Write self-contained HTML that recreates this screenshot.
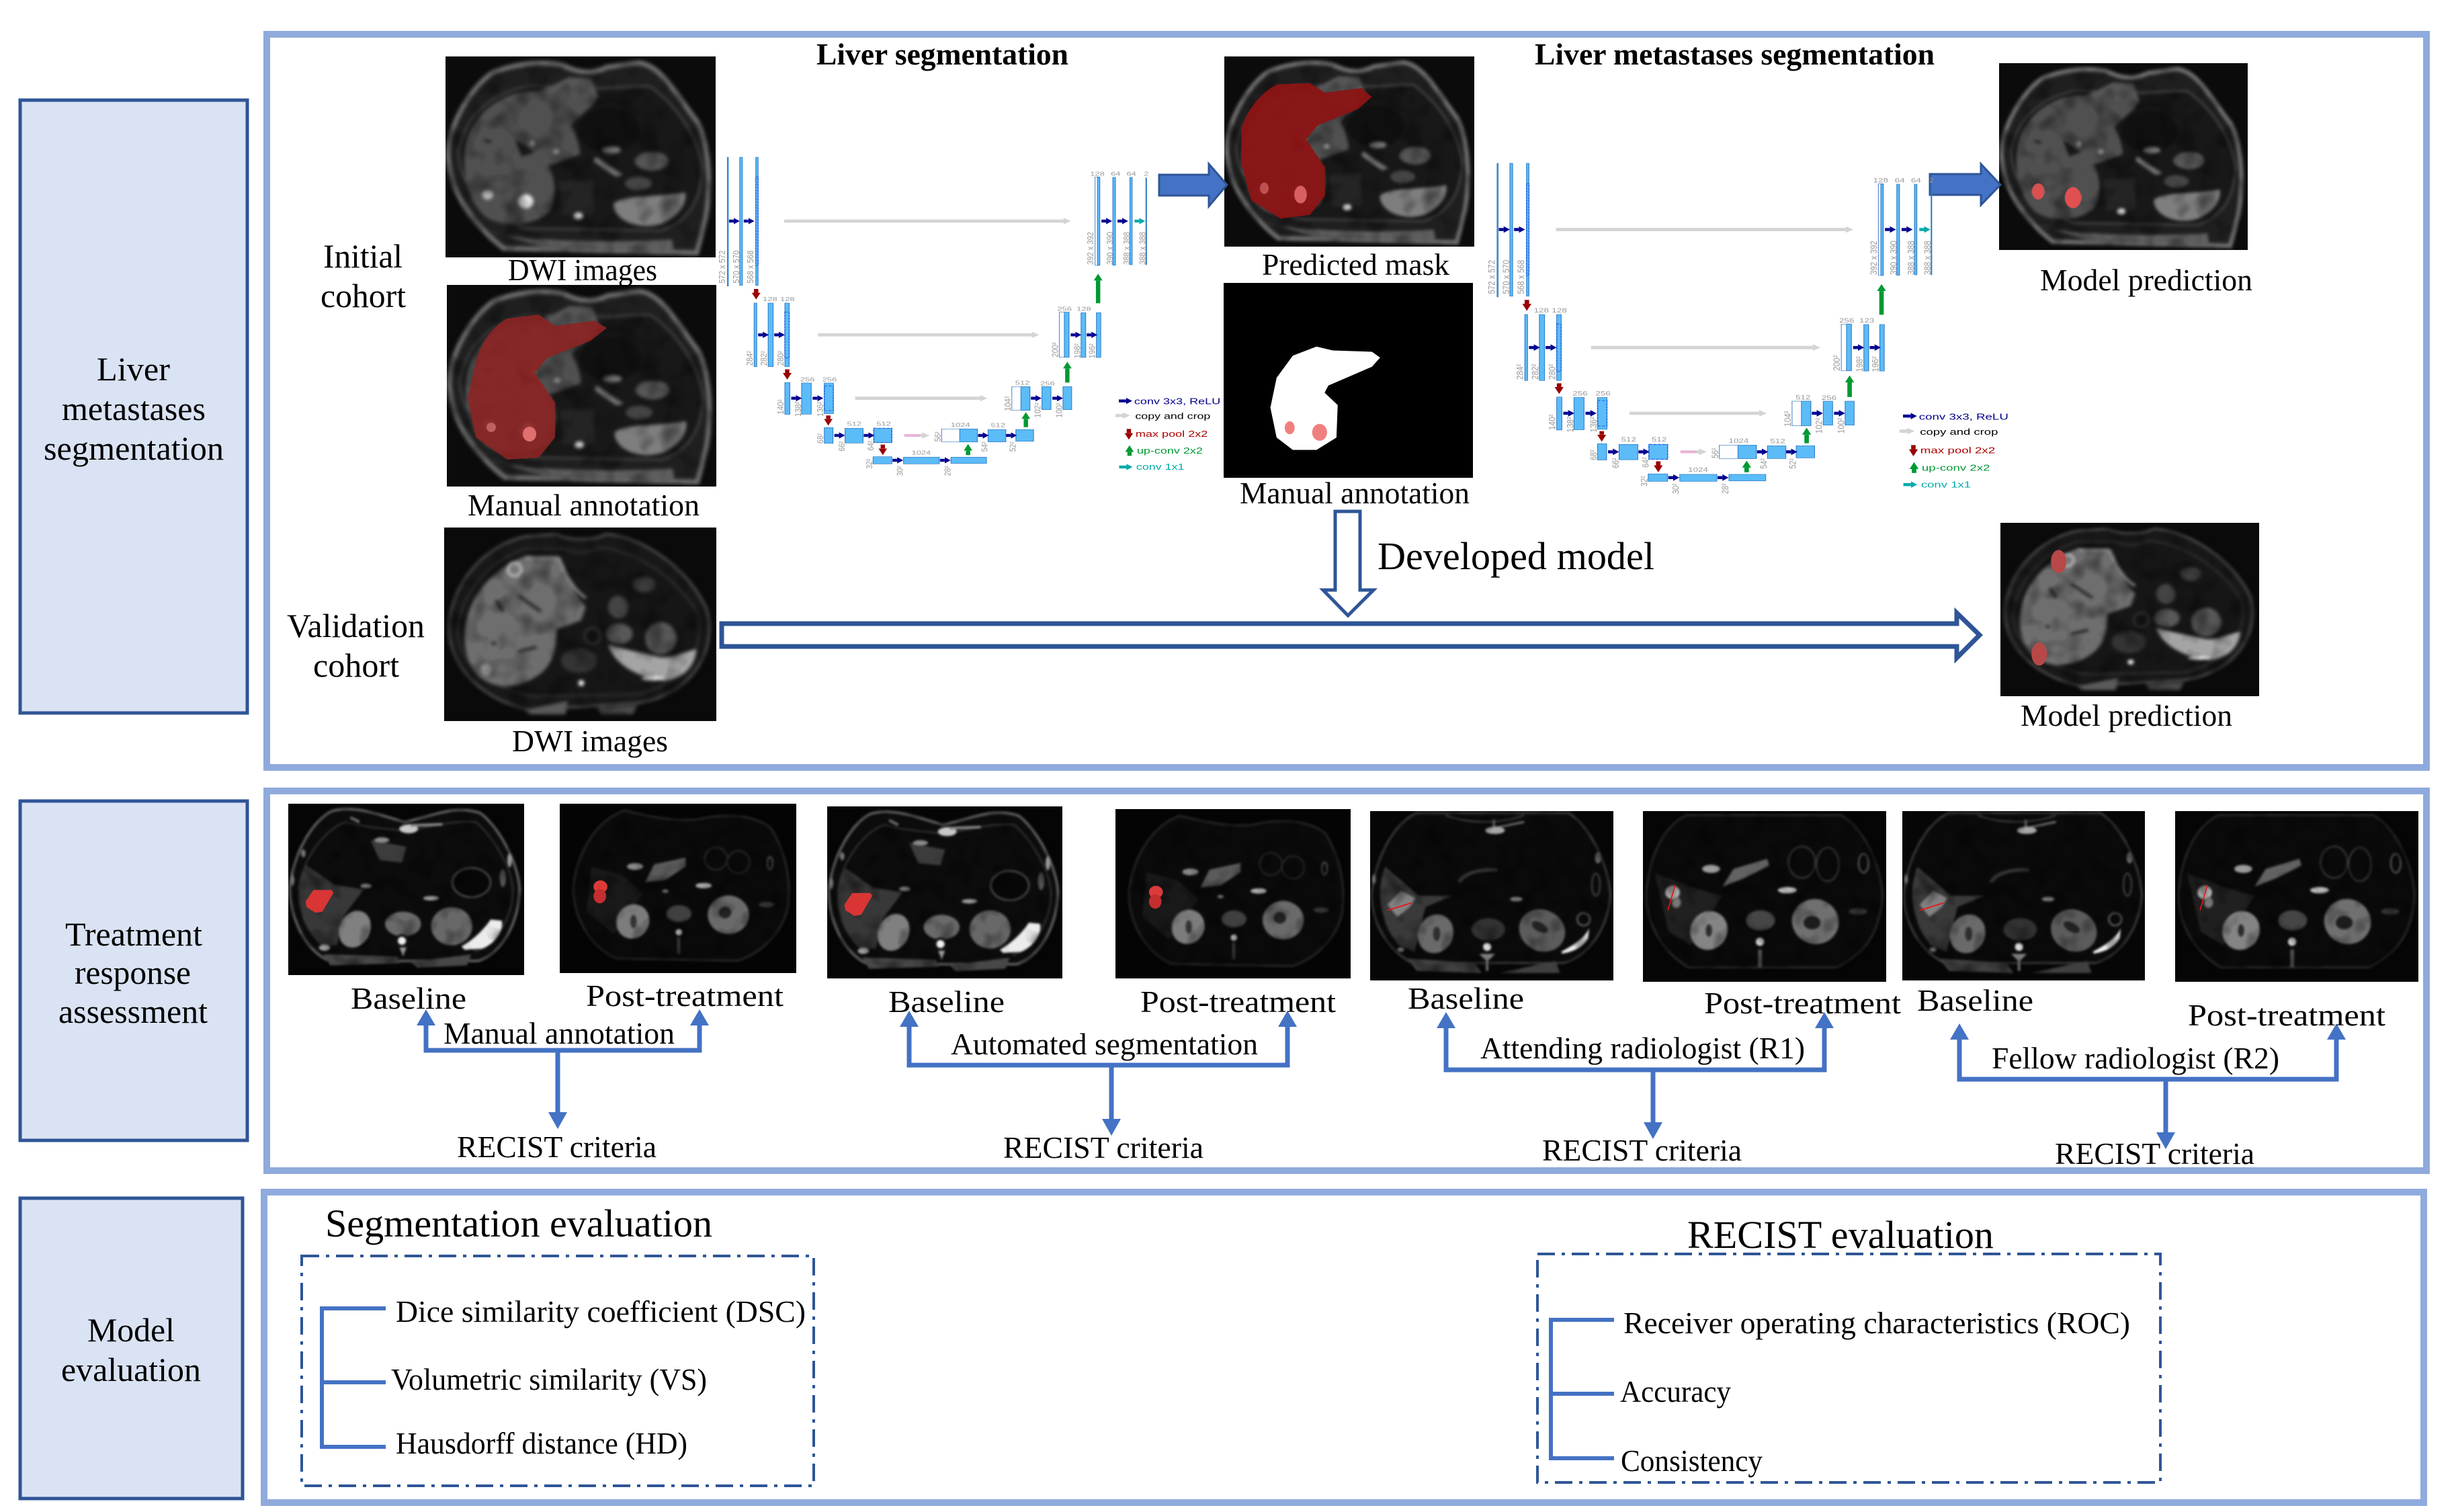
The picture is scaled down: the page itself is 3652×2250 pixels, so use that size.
<!DOCTYPE html>
<html><head><meta charset="utf-8"><title>Liver metastases segmentation workflow</title>
<style>
html,body{margin:0;padding:0;background:#fff}
svg{display:block;font-size:46px}
text{font-family:"Liberation Serif",serif;fill:#000}
.b{font-weight:bold}
.l{font-family:"Liberation Sans",sans-serif;font-size:26px;fill:#999}
.lg{font-family:"Liberation Sans",sans-serif;font-size:38px}
.bar{fill:#5bbcf8;stroke:#2f77c4;stroke-width:2}
.wh{fill:#fff;stroke:#4a80c8;stroke-width:2}
.ds{fill:none;stroke:#1a5fe0;stroke-width:3;stroke-dasharray:8 5}
</style></head><body>
<svg xmlns="http://www.w3.org/2000/svg" width="3652" height="2250" viewBox="0 0 3652 2250">
<defs>
<filter id="b6" x="-5%" y="-5%" width="110%" height="110%" color-interpolation-filters="sRGB">
<feGaussianBlur in="SourceGraphic" stdDeviation="8" result="s"/>
<feTurbulence type="fractalNoise" baseFrequency=".01" numOctaves="2" seed="4" result="n"/>
<feColorMatrix in="n" type="matrix" values="1 0 0 0 .45 1 0 0 0 .45 1 0 0 0 .45 0 0 0 0 1" result="g"/>
<feComposite in="s" in2="g" operator="arithmetic" k1="1" k2="0" k3="0" k4="0"/>
</filter>
<filter id="b3" x="-5%" y="-5%" width="110%" height="110%" color-interpolation-filters="sRGB">
<feGaussianBlur in="SourceGraphic" stdDeviation="5" result="s"/>
<feTurbulence type="fractalNoise" baseFrequency=".012" numOctaves="2" seed="9" result="n"/>
<feColorMatrix in="n" type="matrix" values="1 0 0 0 .45 1 0 0 0 .45 1 0 0 0 .45 0 0 0 0 1" result="g"/>
<feComposite in="s" in2="g" operator="arithmetic" k1="1" k2="0" k3="0" k4="0"/>
</filter>
<marker id="mb" markerUnits="userSpaceOnUse" markerWidth="18" markerHeight="28" refX="0" refY="14" orient="auto"><path d="M0 0L18 14L0 28Z" fill="#000090"/></marker>
<marker id="mt" markerUnits="userSpaceOnUse" markerWidth="18" markerHeight="28" refX="0" refY="14" orient="auto"><path d="M0 0L18 14L0 28Z" fill="#00aaaa"/></marker>
<marker id="my" markerUnits="userSpaceOnUse" markerWidth="22" markerHeight="28" refX="0" refY="14" orient="auto"><path d="M0 0L22 14L0 28Z" fill="#d4d4d4"/></marker>
<marker id="mr" markerUnits="userSpaceOnUse" markerWidth="30" markerHeight="26" refX="0" refY="13" orient="auto"><path d="M0 0L30 13L0 26Z" fill="#990000"/></marker>
<marker id="mg" markerUnits="userSpaceOnUse" markerWidth="30" markerHeight="26" refX="0" refY="13" orient="auto"><path d="M0 0L30 13L0 26Z" fill="#009933"/></marker>

<symbol id="mri1" viewBox="40 72 1205 898" preserveAspectRatio="none">
<rect x="40" y="72" width="1205" height="898" fill="#0b0b0b"/>
<g filter="url(#b6)">
<path d="M50 500C60 350 180 180 260 140C340 110 450 90 560 110C640 150 700 150 760 120L900 100C1000 110 1060 230 1160 360C1210 450 1230 620 1200 800L1160 950L300 930C170 830 55 680 50 500Z" fill="#1f1f1f" stroke="#6c6c6c" stroke-width="22"/>
<path d="M100 500C120 350 240 230 420 205L720 215L950 205C1030 260 1150 380 1185 560C1185 720 1120 810 1000 850L400 840C230 780 100 660 100 500Z" fill="#181818" stroke="#4a4a4a" stroke-width="8"/>
<path d="M125 500C140 350 270 230 440 225L720 250C700 300 640 330 600 380C620 420 640 470 640 510L500 560C540 640 530 720 500 770C430 830 300 840 220 790C150 730 115 620 125 500Z" fill="#505050"/>
<path d="M440 230C520 250 640 250 720 250L690 170L590 165L520 200Z" fill="#555"/>
<path d="M350 440L440 500L380 520ZM200 440L250 450L230 460Z" fill="#1a1a1a"/>
<ellipse cx="770" cy="400" rx="140" ry="100" fill="#101010"/>
<path d="M710 520L830 600L800 610L700 540Z" fill="#757575"/>
<ellipse cx="960" cy="540" rx="75" ry="42" fill="#5a5a5a"/>
<ellipse cx="780" cy="490" rx="42" ry="16" fill="#777"/>
<ellipse cx="900" cy="640" rx="60" ry="30" fill="#444"/>
<path d="M790 730C830 690 1000 700 1110 680C1120 750 1040 830 940 830C860 830 790 790 790 730Z" fill="#7e7e7e"/>
<path d="M230 850C300 890 700 910 1050 890L1060 950L500 930Z" fill="#5e5e5e"/>
<path d="M545 630L700 620L700 780L560 780Z" fill="#242424"/>
<ellipse cx="228" cy="690" rx="24" ry="22" fill="#b8b8b8"/>
<ellipse cx="398" cy="720" rx="34" ry="32" fill="#e6e6e6"/>
<ellipse cx="632" cy="785" rx="20" ry="15" fill="#eee"/>
<ellipse cx="428" cy="460" rx="12" ry="12" fill="#aaa"/>
<ellipse cx="533" cy="497" rx="14" ry="12" fill="#aaa"/>
</g>
</symbol>

<symbol id="mri2" viewBox="18 15 1215 865" preserveAspectRatio="none">
<rect x="18" y="15" width="1215" height="865" fill="#0a0a0a"/>
<g filter="url(#b6)">
<path d="M40 450C50 280 180 100 380 55L520 45C580 75 680 75 740 45C880 50 1100 180 1190 380C1240 560 1130 760 880 800L400 830C200 790 30 640 40 450Z" fill="#181818" stroke="#555" stroke-width="10"/>
<path d="M80 470C90 330 200 170 380 110L560 110C600 135 650 130 720 105C870 120 1050 230 1150 400C1180 560 1100 710 880 760L420 770C240 740 70 620 80 470Z" fill="#161616" stroke="#333" stroke-width="8"/>
<path d="M110 500C110 350 220 200 380 145L530 145C560 220 590 300 650 370L630 430L520 470C520 560 500 640 430 680C340 740 250 740 170 680C120 620 108 560 110 500Z" fill="#6e6e6e"/>
<path d="M380 148L530 150C560 220 590 290 650 330" fill="none" stroke="#a0a0a0" stroke-width="10"/>
<path d="M350 320L450 390M250 340L280 390M230 530L250 535M350 570L430 550" stroke="#262626" stroke-width="14" fill="none"/>
<path d="M750 540C780 620 860 680 1000 700C1100 690 1140 620 1145 560C1100 560 1040 610 960 590C870 570 790 550 750 540Z" fill="#a4a4a4"/>
<ellipse cx="950" cy="690" rx="50" ry="8" fill="#eee"/>
<ellipse cx="620" cy="610" rx="80" ry="55" fill="#343434"/>
<ellipse cx="800" cy="490" rx="60" ry="45" fill="#585858"/>
<ellipse cx="985" cy="510" rx="70" ry="72" fill="#585858"/>
<ellipse cx="795" cy="370" rx="45" ry="50" fill="#444"/>
<ellipse cx="910" cy="270" rx="50" ry="35" fill="#3c3c3c"/>
<circle cx="680" cy="500" r="35" fill="#111" stroke="#3a3a3a" stroke-width="8"/>
<path d="M380 830L570 790L560 850L400 850Z" fill="#5a5a5a"/>
<path d="M700 820L880 810L860 850L720 850Z" fill="#4a4a4a"/>
<circle cx="332" cy="202" r="30" fill="#777" stroke="#cfcfcf" stroke-width="9"/>
<circle cx="205" cy="650" r="25" fill="#c0c0c0"/>
<circle cx="630" cy="710" r="13" fill="#fff"/>
</g>
</symbol>

<symbol id="bas" viewBox="13 18 1052 765" preserveAspectRatio="none">
<rect x="13" y="18" width="1052" height="765" fill="#050505"/>
<g filter="url(#b3)">
<path d="M20 400C30 250 120 90 210 50C300 25 400 60 530 100C650 75 760 20 870 60C950 120 1040 280 1045 400C1040 560 960 690 860 720L200 720C110 690 25 560 20 400Z" fill="#0c0c0c" stroke="#5a5a5a" stroke-width="12"/>
<path d="M60 400C70 280 170 130 270 100C380 130 470 130 540 140C650 120 760 90 850 100C930 170 1010 300 1015 410C1010 540 930 650 840 680" fill="none" stroke="#2e2e2e" stroke-width="8"/>
<path d="M90 290L220 380L350 400L260 520L230 650L160 650C100 600 50 500 60 400Z" fill="#383838"/>
<path d="M380 180L540 210L520 280L420 270Z" fill="#3c3c3c"/>
<ellipse cx="430" cy="180" rx="34" ry="12" fill="#8a8a8a"/>
<ellipse cx="550" cy="130" rx="42" ry="20" fill="#c8c8c8"/>
<path d="M290 80L330 100M560 115L700 110" stroke="#888" stroke-width="12"/>
<ellipse cx="1000" cy="270" rx="10" ry="32" fill="#999"/>
<ellipse cx="80" cy="240" rx="10" ry="18" fill="#777"/>
<ellipse cx="32" cy="360" rx="8" ry="25" fill="#777"/>
<ellipse cx="970" cy="350" rx="14" ry="40" fill="#555"/>
<ellipse cx="830" cy="370" rx="85" ry="65" fill="#070707" stroke="#4a4a4a" stroke-width="8"/>
<ellipse cx="650" cy="440" rx="35" ry="10" fill="#999"/>
<ellipse cx="360" cy="385" rx="25" ry="10" fill="#888"/>
<ellipse cx="310" cy="578" rx="68" ry="85" transform="rotate(25 310 578)" fill="#808080"/>
<ellipse cx="525" cy="555" rx="80" ry="55" fill="#6a6a6a"/>
<ellipse cx="742" cy="565" rx="92" ry="85" fill="#686868"/>
<path d="M170 690L500 700L510 730L200 740Z" fill="#484848"/>
<path d="M560 725L830 690L810 740L590 750Z" fill="#484848"/>
<ellipse cx="175" cy="660" rx="25" ry="14" fill="#aaa"/>
<path d="M785 655C850 620 900 560 915 535L965 540C975 580 940 640 880 665L800 670Z" fill="#ececec"/>
<circle cx="520" cy="630" r="30" fill="#111"/>
<circle cx="520" cy="630" r="18" fill="#f0f0f0"/>
<path d="M510 660L540 660L525 700Z" fill="#aaa"/>
</g>
<path d="M125 403L205 403L215 415L165 500L135 505L95 480L90 455Z" fill="#d93535"/>
</symbol>

<symbol id="pos" viewBox="10 20 1052 755" preserveAspectRatio="none">
<rect x="10" y="20" width="1052" height="755" fill="#040404"/>
<g filter="url(#b3)">
<path d="M70 400C80 250 170 90 300 50C420 80 520 100 620 90C750 60 880 70 950 130C1010 230 1040 340 1025 480C1000 600 900 690 800 720L260 710C150 660 70 530 70 400Z" fill="#0a0a0a" stroke="#232323" stroke-width="10"/>
<path d="M150 300L290 340L380 420L250 600L130 500Z" fill="#191919"/>
<path d="M390 370L430 290L570 260L570 300L480 360Z" fill="#5a5a5a"/>
<ellipse cx="345" cy="300" rx="36" ry="15" fill="#888"/>
<ellipse cx="650" cy="385" rx="36" ry="12" fill="#aaa"/>
<ellipse cx="480" cy="410" rx="14" ry="8" fill="#666"/>
<circle cx="705" cy="265" r="50" fill="none" stroke="#2c2c2c" stroke-width="6"/>
<circle cx="805" cy="280" r="50" fill="none" stroke="#2c2c2c" stroke-width="6"/>
<ellipse cx="945" cy="285" rx="12" ry="28" fill="none" stroke="#555" stroke-width="6"/>
<ellipse cx="335" cy="545" rx="72" ry="78" transform="rotate(30 335 545)" fill="#7c7c7c"/>
<ellipse cx="760" cy="515" rx="92" ry="86" fill="#6a6a6a"/>
<ellipse cx="338" cy="545" rx="14" ry="30" fill="#333"/>
<ellipse cx="745" cy="505" rx="28" ry="26" fill="#222"/>
<ellipse cx="540" cy="510" rx="56" ry="38" fill="#404040"/>
<circle cx="540" cy="593" r="14" fill="#ececec"/>
<rect x="533" y="615" width="12" height="75" fill="#3a3a3a"/>
<ellipse cx="930" cy="470" rx="35" ry="12" fill="#333"/>
</g>
<ellipse cx="191" cy="390" rx="31" ry="28" fill="#dc3a3a"/>
<ellipse cx="188" cy="432" rx="28" ry="32" fill="#c42e2e"/>
</symbol>

<symbol id="bae" viewBox="13 22 1085 756" preserveAspectRatio="none">
<rect x="13" y="22" width="1085" height="756" fill="#060606"/>
<g filter="url(#b3)">
<path d="M20 400C30 260 100 90 220 30L900 30C1000 100 1075 260 1085 400C1070 560 980 670 880 700L200 700C90 640 25 530 20 400Z" fill="#0a0a0a" stroke="#383838" stroke-width="10"/>
<path d="M350 40C450 80 600 80 700 40" fill="none" stroke="#3a3a3a" stroke-width="8"/>
<path d="M530 105L700 70M565 105L565 60" stroke="#6a6a6a" stroke-width="10"/>
<ellipse cx="570" cy="108" rx="44" ry="16" fill="#a8a8a8"/>
<path d="M80 270L230 400L380 400L260 450L210 650L140 620C70 540 30 400 80 270Z" fill="#3a3a3a"/>
<path d="M410 340C430 300 500 280 580 285" fill="none" stroke="#333" stroke-width="16"/>
<path d="M150 378L215 410L190 450L135 495L90 440Z" fill="#828282"/>
<ellipse cx="305" cy="570" rx="78" ry="88" transform="rotate(25 305 570)" fill="#6a6a6a"/>
<ellipse cx="310" cy="570" rx="16" ry="32" fill="#2e2e2e"/>
<ellipse cx="780" cy="555" rx="105" ry="92" transform="rotate(25 780 555)" fill="#5c5c5c"/>
<ellipse cx="770" cy="540" rx="40" ry="20" transform="rotate(30 770 540)" fill="#222"/>
<ellipse cx="540" cy="550" rx="75" ry="50" fill="#323232"/>
<circle cx="535" cy="628" r="18" fill="#dcdcdc"/>
<path d="M500 660L570 660L540 690L540 735L530 735L530 690Z" fill="#888"/>
<path d="M865 650C920 620 970 590 990 545L985 590C960 630 920 650 870 658Z" fill="#f0f0f0"/>
<circle cx="965" cy="505" r="28" fill="#0a0a0a" stroke="#5a5a5a" stroke-width="8"/>
<path d="M180 680L480 700L510 745L220 735Z" fill="#404040"/>
<path d="M590 745L840 690L860 745Z" fill="#404040"/>
<ellipse cx="1030" cy="230" rx="14" ry="25" fill="#777"/>
<ellipse cx="1020" cy="350" rx="18" ry="50" fill="none" stroke="#4a4a4a" stroke-width="6"/>
<ellipse cx="30" cy="325" rx="8" ry="22" fill="#777"/>
<ellipse cx="665" cy="415" rx="28" ry="10" fill="#777"/>
<ellipse cx="150" cy="640" rx="15" ry="10" fill="#888"/>
</g>
<line x1="90" y1="465" x2="197" y2="432" stroke="#ee1111" stroke-width="5"/>
</symbol>

<symbol id="pof" viewBox="16 22 1085 762" preserveAspectRatio="none">
<rect x="16" y="22" width="1085" height="762" fill="#050505"/>
<g filter="url(#b3)">
<path d="M30 400C40 250 90 100 210 40L900 40C1000 100 1075 250 1085 400C1070 560 1020 650 880 720L220 720C100 650 35 530 30 400Z" fill="#0a0a0a" stroke="#282828" stroke-width="9"/>
<path d="M70 300L230 360L370 400L230 620L130 560Z" fill="#202020"/>
<path d="M370 360L420 280L570 235L580 265L470 320Z" fill="#626262"/>
<ellipse cx="320" cy="280" rx="40" ry="18" fill="#9c9c9c"/>
<ellipse cx="660" cy="375" rx="42" ry="14" fill="#bcbcbc"/>
<ellipse cx="725" cy="250" rx="60" ry="70" fill="none" stroke="#3e3e3e" stroke-width="6"/>
<ellipse cx="840" cy="260" rx="50" ry="75" fill="none" stroke="#3e3e3e" stroke-width="6"/>
<ellipse cx="1000" cy="255" rx="22" ry="42" fill="none" stroke="#666" stroke-width="6"/>
<ellipse cx="975" cy="470" rx="40" ry="14" fill="#3c3c3c"/>
<ellipse cx="148" cy="385" rx="32" ry="30" fill="#d0d0d0"/>
<ellipse cx="165" cy="430" rx="20" ry="24" fill="#777"/>
<ellipse cx="310" cy="555" rx="82" ry="88" transform="rotate(30 310 555)" fill="#848484"/>
<ellipse cx="310" cy="555" rx="14" ry="28" fill="#2c2c2c"/>
<ellipse cx="785" cy="515" rx="105" ry="100" transform="rotate(20 785 515)" fill="#707070"/>
<ellipse cx="770" cy="520" rx="38" ry="30" fill="#1c1c1c"/>
<ellipse cx="540" cy="510" rx="65" ry="45" fill="#464646"/>
<circle cx="538" cy="605" r="18" fill="#f0f0f0"/>
<rect x="530" y="640" width="16" height="80" fill="#555"/>
</g>
<line x1="160" y1="352" x2="127" y2="465" stroke="#ee1111" stroke-width="5"/>
</symbol>

<g id="unet">
<rect class="bar" x="25" y="42" width="3" height="575"/><rect class="bar" x="62" y="42" width="8" height="572"/><rect class="bar" x="110" y="42" width="7" height="572"/><rect class="ds" x="110" y="130" width="7" height="395"/>
<rect class="wh" x="1125" y="130" width="14" height="395"/><rect class="bar" x="1132" y="132" width="7" height="392"/><rect class="bar" x="1178" y="132" width="8" height="392"/><rect class="bar" x="1229" y="132" width="7" height="390"/><rect class="bar" x="1277" y="134" width="2" height="388"/>
<rect class="bar" x="105" y="693" width="8" height="284"/><rect class="bar" x="147" y="693" width="15" height="284"/><rect class="bar" x="197" y="693" width="13" height="284"/><rect class="ds" x="197" y="733" width="13" height="205"/>
<rect class="wh" x="1018" y="734" width="29" height="201"/><rect class="bar" x="1033" y="734" width="14" height="201"/><rect class="bar" x="1083" y="736" width="14" height="200"/><rect class="bar" x="1129" y="736" width="13" height="200"/>
<rect class="bar" x="197" y="1048" width="15" height="142"/><rect class="bar" x="247" y="1050" width="29" height="139"/><rect class="bar" x="315" y="1050" width="27" height="137"/><rect class="ds" x="315" y="1063" width="27" height="110"/>
<rect class="wh" x="876" y="1066" width="54" height="106"/><rect class="bar" x="903" y="1066" width="27" height="106"/><rect class="bar" x="966" y="1066" width="27" height="103"/><rect class="bar" x="1029" y="1066" width="26" height="103"/>
<rect class="bar" x="315" y="1249" width="26" height="70"/><rect class="bar" x="377" y="1252" width="54" height="66"/><rect class="bar" x="463" y="1252" width="54" height="64"/><rect class="ds" x="463" y="1252" width="54" height="64"/>
<rect class="wh" x="666" y="1255" width="107" height="58"/><rect class="bar" x="720" y="1255" width="53" height="58"/><rect class="bar" x="805" y="1258" width="53" height="55"/><rect class="bar" x="888" y="1258" width="53" height="52"/>
<rect class="bar" x="461" y="1379" width="56" height="32"/><rect class="bar" x="552" y="1381" width="107" height="30"/><rect class="bar" x="694" y="1381" width="106" height="28"/>
<g stroke="#000090" stroke-width="13" fill="none">
<path d="M30 327H44" marker-end="url(#mb)"/><path d="M74 327H88" marker-end="url(#mb)"/><path d="M1144 327H1158" marker-end="url(#mb)"/><path d="M1192 327H1206" marker-end="url(#mb)"/>
<path d="M117 835H131" marker-end="url(#mb)"/><path d="M165 835H179" marker-end="url(#mb)"/><path d="M1052 835H1066" marker-end="url(#mb)"/><path d="M1100 835H1114" marker-end="url(#mb)"/>
<path d="M216 1118H230" marker-end="url(#mb)"/><path d="M280 1118H294" marker-end="url(#mb)"/><path d="M933 1118H947" marker-end="url(#mb)"/><path d="M997 1118H1011" marker-end="url(#mb)"/>
<path d="M345 1284H359" marker-end="url(#mb)"/><path d="M433 1284H447" marker-end="url(#mb)"/><path d="M775 1284H789" marker-end="url(#mb)"/><path d="M859 1284H873" marker-end="url(#mb)"/>
<path d="M519 1395H533" marker-end="url(#mb)"/><path d="M661 1395H675" marker-end="url(#mb)"/>
<path d="M1196 1130H1218" marker-end="url(#mb)"/>
</g>
<path d="M1243 327H1257" stroke="#00aaaa" stroke-width="13" marker-end="url(#mt)"/><path d="M1197 1425H1219" stroke="#00aaaa" stroke-width="13" marker-end="url(#mt)"/>
<path d="M195 327H1031" stroke="#d4d4d4" stroke-width="14" marker-end="url(#my)"/><path d="M296 835H936" stroke="#d4d4d4" stroke-width="14" marker-end="url(#my)"/><path d="M407 1118H781" stroke="#d4d4d4" stroke-width="14" marker-end="url(#my)"/>
<path d="M600 1284H608" stroke="#d4d4d4" stroke-width="14" marker-end="url(#my)"/><path d="M554 1284H600" stroke="#e8b4d4" stroke-width="12"/>
<path d="M1186 1195H1208" stroke="#d4d4d4" stroke-width="14" marker-end="url(#my)"/>
<g stroke="#990000" stroke-width="13" fill="none">
<path d="M111 630V647" marker-end="url(#mr)"/><path d="M204 989V1005" marker-end="url(#mr)"/><path d="M327 1195V1210" marker-end="url(#mr)"/><path d="M490 1325V1342" marker-end="url(#mr)"/><path d="M1226 1255V1273" marker-end="url(#mr)"/>
</g>
<g stroke="#009933" stroke-width="13" fill="none">
<path d="M1134 694V592" marker-end="url(#mg)"/><path d="M1042 1048V985" marker-end="url(#mg)"/><path d="M918 1247V1210" marker-end="url(#mg)"/><path d="M745 1372V1352" marker-end="url(#mg)"/><path d="M1228 1375V1358" marker-end="url(#mg)"/>
</g>
</g>
</defs>

<rect width="3652" height="2250" fill="#fff"/>

<!-- left labels -->
<g fill="#dae3f3" stroke="#2f5597" stroke-width="5">
<rect x="30" y="149" width="338" height="912"/>
<rect x="30" y="1192" width="338" height="505"/>
<rect x="30" y="1783" width="331" height="447"/>
</g>

<!-- panels -->
<g fill="none" stroke="#8faadc" stroke-width="10">
<rect x="397" y="51" width="3214" height="1091"/>
<rect x="397" y="1177" width="3214" height="565"/>
<rect x="393" y="1774" width="3214" height="462"/>
</g>

<text x="144" y="566" font-size="50" textLength="109" lengthAdjust="spacingAndGlyphs">Liver</text>
<text x="92" y="625" font-size="50" textLength="214" lengthAdjust="spacingAndGlyphs">metastases</text>
<text x="65" y="684" font-size="50" textLength="268" lengthAdjust="spacingAndGlyphs">segmentation</text>
<text x="97" y="1407" font-size="50" textLength="204" lengthAdjust="spacingAndGlyphs">Treatment</text>
<text x="111" y="1464" font-size="50" textLength="173" lengthAdjust="spacingAndGlyphs">response</text>
<text x="87" y="1522" font-size="50" textLength="222" lengthAdjust="spacingAndGlyphs">assessment</text>
<text x="130" y="1996" font-size="50" textLength="130" lengthAdjust="spacingAndGlyphs">Model</text>
<text x="91" y="2055" font-size="50" textLength="208" lengthAdjust="spacingAndGlyphs">evaluation</text>

<!-- images panel 1 -->
<use href="#mri1" x="663" y="84" width="402" height="299"/>
<use href="#mri1" x="665" y="424" width="401" height="300"/>
<path transform="translate(665 424)" d="M43 116C50 85 70 60 90 50L137 44L161 61L220 53L238 64L214 83L149 109L131 131L161 175L161 227L137 257L90 260L43 227L31 168Z" fill="#8c2424" fill-opacity=".9"/>
<g transform="translate(665 424)"><ellipse cx="66" cy="212" rx="7" ry="7" fill="#c06060"/><ellipse cx="123" cy="222" rx="10" ry="11" fill="#e07070"/></g>
<use href="#mri2" x="661" y="785" width="405" height="288"/>
<use href="#mri1" x="1822" y="84" width="372" height="283"/>
<path transform="translate(1822 84) scale(.93 .943)" d="M27 116C35 85 60 55 85 44L137 42L161 57L220 50L236 64L214 83L149 109L131 131L161 175L161 220L137 250L90 256L43 227L27 168Z" fill="#8c1414" fill-opacity=".95"/>
<g transform="translate(1822 84) scale(.93 .943)"><ellipse cx="64" cy="208" rx="7" ry="9" fill="#c05050"/><ellipse cx="122" cy="218" rx="10" ry="14" fill="#d86060"/></g>
<g transform="translate(1821 421) scale(.9275 .9667)">
<rect width="400" height="300" fill="#000"/>
<path d="M149 98L175 104L238 106L251 115L238 129L168 158L162 169L183 188L181 238L149 257L111 257L85 238L75 192L85 146L111 112Z" fill="#fff"/>
<ellipse cx="106" cy="223" rx="8" ry="10" fill="#f08080"/><ellipse cx="154" cy="230" rx="12" ry="13" fill="#f08080"/>
</g>
<use href="#mri1" x="2975" y="94" width="370" height="278"/>
<g transform="translate(2975 94) scale(.925 .9267)"><ellipse cx="63" cy="206" rx="10" ry="13" fill="#d85050"/><ellipse cx="119" cy="216" rx="13" ry="17" fill="#e05050"/></g>
<use href="#mri2" x="2977" y="778" width="385" height="258"/>
<g transform="translate(2977 778) scale(.9625 .86)"><ellipse cx="90" cy="67" rx="12" ry="20" fill="#b84848"/><ellipse cx="60" cy="227" rx="12" ry="20" fill="#b84848"/></g>

<!-- panel 1 arrows -->
<path d="M1725 260H1799V244L1826 275L1799 307V291H1725Z" fill="#4472c4" stroke="#2f5597" stroke-width="3"/>
<path d="M2872 259H2948V244L2977 275L2948 305V290H2872Z" fill="#4472c4" stroke="#2f5597" stroke-width="3"/>
<path d="M1987 761H2024V878H2044L2006 916L1969 878H1987Z" fill="#fff" stroke="#2f5597" stroke-width="5"/>
<path d="M1074 928H2912V912L2946 945L2912 979V962H1074Z" fill="#fff" stroke="#2f5597" stroke-width="7"/>

<!-- U-nets -->
<g transform="translate(1070 220) scale(.4975 .3333)">
<use href="#unet"/>
<text class="l" transform="translate(18 605) rotate(-90)" textLength="147" lengthAdjust="spacingAndGlyphs">572 x 572</text>
<text class="l" transform="translate(60 605) rotate(-90)" textLength="147" lengthAdjust="spacingAndGlyphs">570 x 570</text>
<text class="l" transform="translate(103 605) rotate(-90)" textLength="147" lengthAdjust="spacingAndGlyphs">568 x 568</text>
<text class="l" transform="translate(1120 522) rotate(-90)" textLength="147" lengthAdjust="spacingAndGlyphs">392 x 392</text>
<text class="l" transform="translate(1178 522) rotate(-90)" textLength="147" lengthAdjust="spacingAndGlyphs">390 x 390</text>
<text class="l" transform="translate(1228 522) rotate(-90)" textLength="147" lengthAdjust="spacingAndGlyphs">388 x 388</text>
<text class="l" transform="translate(1275 522) rotate(-90)" textLength="147" lengthAdjust="spacingAndGlyphs">388 x 388</text>
<text class="l" transform="translate(100 973) rotate(-90)" textLength="67" lengthAdjust="spacingAndGlyphs">284²</text>
<text class="l" transform="translate(143 973) rotate(-90)" textLength="67" lengthAdjust="spacingAndGlyphs">282²</text>
<text class="l" transform="translate(193 973) rotate(-90)" textLength="67" lengthAdjust="spacingAndGlyphs">280²</text>
<text class="l" transform="translate(1014 935) rotate(-90)" textLength="67" lengthAdjust="spacingAndGlyphs">200²</text>
<text class="l" transform="translate(1080 940) rotate(-90)" textLength="67" lengthAdjust="spacingAndGlyphs">198²</text>
<text class="l" transform="translate(1125 940) rotate(-90)" textLength="67" lengthAdjust="spacingAndGlyphs">196²</text>
<text class="l" transform="translate(193 1190) rotate(-90)" textLength="67" lengthAdjust="spacingAndGlyphs">140²</text>
<text class="l" transform="translate(245 1200) rotate(-90)" textLength="67" lengthAdjust="spacingAndGlyphs">138²</text>
<text class="l" transform="translate(312 1200) rotate(-90)" textLength="67" lengthAdjust="spacingAndGlyphs">136²</text>
<text class="l" transform="translate(872 1175) rotate(-90)" textLength="67" lengthAdjust="spacingAndGlyphs">104²</text>
<text class="l" transform="translate(962 1205) rotate(-90)" textLength="67" lengthAdjust="spacingAndGlyphs">102²</text>
<text class="l" transform="translate(1026 1205) rotate(-90)" textLength="67" lengthAdjust="spacingAndGlyphs">100²</text>
<text class="l" transform="translate(312 1320) rotate(-90)" textLength="45" lengthAdjust="spacingAndGlyphs">68²</text>
<text class="l" transform="translate(376 1355) rotate(-90)" textLength="45" lengthAdjust="spacingAndGlyphs">66²</text>
<text class="l" transform="translate(462 1352) rotate(-90)" textLength="45" lengthAdjust="spacingAndGlyphs">64²</text>
<text class="l" transform="translate(663 1312) rotate(-90)" textLength="45" lengthAdjust="spacingAndGlyphs">56²</text>
<text class="l" transform="translate(803 1357) rotate(-90)" textLength="45" lengthAdjust="spacingAndGlyphs">54²</text>
<text class="l" transform="translate(887 1357) rotate(-90)" textLength="45" lengthAdjust="spacingAndGlyphs">52²</text>
<text class="l" transform="translate(458 1433) rotate(-90)" textLength="45" lengthAdjust="spacingAndGlyphs">32²</text>
<text class="l" transform="translate(550 1465) rotate(-90)" textLength="45" lengthAdjust="spacingAndGlyphs">30²</text>
<text class="l" transform="translate(692 1465) rotate(-90)" textLength="45" lengthAdjust="spacingAndGlyphs">28²</text>
<text class="l" x="131" y="684">128</text><text class="l" x="183" y="684">128</text><text class="l" x="243" y="1042">256</text><text class="l" x="309" y="1042">256</text><text class="l" x="383" y="1240">512</text><text class="l" x="471" y="1240">512</text><text class="l" x="576" y="1370">1024</text>
<text class="l" x="1110" y="124">128</text><text class="l" x="1172" y="124">64</text><text class="l" x="1219" y="124">64</text><text class="l" x="1271" y="124">2</text><text class="l" x="1012" y="728">256</text><text class="l" x="1070" y="728">128</text><text class="l" x="886" y="1058">512</text><text class="l" x="961" y="1060">256</text><text class="l" x="693" y="1245">1024</text><text class="l" x="813" y="1247">512</text>
<text class="lg" x="1242" y="1145" style="fill:#00008b" textLength="258" lengthAdjust="spacingAndGlyphs">conv 3x3, ReLU</text>
<text class="lg" x="1245" y="1210" textLength="225" lengthAdjust="spacingAndGlyphs">copy and crop</text>
<text class="lg" x="1246" y="1290" style="fill:#aa0000" textLength="216" lengthAdjust="spacingAndGlyphs">max pool 2x2</text>
<text class="lg" x="1250" y="1365" style="fill:#009933" textLength="197" lengthAdjust="spacingAndGlyphs">up-conv 2x2</text>
<text class="lg" x="1248" y="1437" style="fill:#00aaaa" textLength="144" lengthAdjust="spacingAndGlyphs">conv 1x1</text>
</g>

<g transform="translate(2215 228.500) scale(.5159 .3457)">
<use href="#unet"/>
<text class="l" transform="translate(18 605) rotate(-90)" textLength="147" lengthAdjust="spacingAndGlyphs">572 x 572</text>
<text class="l" transform="translate(60 605) rotate(-90)" textLength="147" lengthAdjust="spacingAndGlyphs">570 x 570</text>
<text class="l" transform="translate(103 605) rotate(-90)" textLength="147" lengthAdjust="spacingAndGlyphs">568 x 568</text>
<text class="l" transform="translate(1120 522) rotate(-90)" textLength="147" lengthAdjust="spacingAndGlyphs">392 x 392</text>
<text class="l" transform="translate(1178 522) rotate(-90)" textLength="147" lengthAdjust="spacingAndGlyphs">390 x 390</text>
<text class="l" transform="translate(1228 522) rotate(-90)" textLength="147" lengthAdjust="spacingAndGlyphs">388 x 388</text>
<text class="l" transform="translate(1275 522) rotate(-90)" textLength="147" lengthAdjust="spacingAndGlyphs">388 x 388</text>
<text class="l" transform="translate(100 973) rotate(-90)" textLength="67" lengthAdjust="spacingAndGlyphs">284²</text>
<text class="l" transform="translate(143 973) rotate(-90)" textLength="67" lengthAdjust="spacingAndGlyphs">282²</text>
<text class="l" transform="translate(193 973) rotate(-90)" textLength="67" lengthAdjust="spacingAndGlyphs">280²</text>
<text class="l" transform="translate(1014 935) rotate(-90)" textLength="67" lengthAdjust="spacingAndGlyphs">200²</text>
<text class="l" transform="translate(1080 940) rotate(-90)" textLength="67" lengthAdjust="spacingAndGlyphs">198²</text>
<text class="l" transform="translate(1125 940) rotate(-90)" textLength="67" lengthAdjust="spacingAndGlyphs">196²</text>
<text class="l" transform="translate(193 1190) rotate(-90)" textLength="67" lengthAdjust="spacingAndGlyphs">140²</text>
<text class="l" transform="translate(245 1200) rotate(-90)" textLength="67" lengthAdjust="spacingAndGlyphs">138²</text>
<text class="l" transform="translate(312 1200) rotate(-90)" textLength="67" lengthAdjust="spacingAndGlyphs">136²</text>
<text class="l" transform="translate(872 1175) rotate(-90)" textLength="67" lengthAdjust="spacingAndGlyphs">104²</text>
<text class="l" transform="translate(962 1205) rotate(-90)" textLength="67" lengthAdjust="spacingAndGlyphs">102²</text>
<text class="l" transform="translate(1026 1205) rotate(-90)" textLength="67" lengthAdjust="spacingAndGlyphs">100²</text>
<text class="l" transform="translate(312 1320) rotate(-90)" textLength="45" lengthAdjust="spacingAndGlyphs">68²</text>
<text class="l" transform="translate(376 1355) rotate(-90)" textLength="45" lengthAdjust="spacingAndGlyphs">66²</text>
<text class="l" transform="translate(462 1352) rotate(-90)" textLength="45" lengthAdjust="spacingAndGlyphs">64²</text>
<text class="l" transform="translate(663 1312) rotate(-90)" textLength="45" lengthAdjust="spacingAndGlyphs">56²</text>
<text class="l" transform="translate(803 1357) rotate(-90)" textLength="45" lengthAdjust="spacingAndGlyphs">54²</text>
<text class="l" transform="translate(887 1357) rotate(-90)" textLength="45" lengthAdjust="spacingAndGlyphs">52²</text>
<text class="l" transform="translate(458 1433) rotate(-90)" textLength="45" lengthAdjust="spacingAndGlyphs">32²</text>
<text class="l" transform="translate(550 1465) rotate(-90)" textLength="45" lengthAdjust="spacingAndGlyphs">30²</text>
<text class="l" transform="translate(692 1465) rotate(-90)" textLength="45" lengthAdjust="spacingAndGlyphs">28²</text>
<text class="l" x="131" y="684">128</text><text class="l" x="183" y="684">128</text><text class="l" x="243" y="1042">256</text><text class="l" x="309" y="1042">256</text><text class="l" x="383" y="1240">512</text><text class="l" x="471" y="1240">512</text><text class="l" x="576" y="1370">1024</text>
<text class="l" x="1110" y="124">128</text><text class="l" x="1172" y="124">64</text><text class="l" x="1219" y="124">64</text><text class="l" x="1271" y="124">2</text><text class="l" x="1012" y="728">256</text><text class="l" x="1070" y="728">123</text><text class="l" x="886" y="1058">512</text><text class="l" x="961" y="1060">256</text><text class="l" x="693" y="1245">1024</text><text class="l" x="813" y="1247">512</text>
<text class="lg" x="1242" y="1145" style="fill:#00008b" textLength="258" lengthAdjust="spacingAndGlyphs">conv 3x3, ReLU</text>
<text class="lg" x="1245" y="1210" textLength="225" lengthAdjust="spacingAndGlyphs">copy and crop</text>
<text class="lg" x="1246" y="1290" style="fill:#aa0000" textLength="216" lengthAdjust="spacingAndGlyphs">max pool 2x2</text>
<text class="lg" x="1250" y="1365" style="fill:#009933" textLength="197" lengthAdjust="spacingAndGlyphs">up-conv 2x2</text>
<text class="lg" x="1248" y="1437" style="fill:#00aaaa" textLength="144" lengthAdjust="spacingAndGlyphs">conv 1x1</text>
</g>

<!-- panel 1 text -->
<text class="b" x="1215" y="96" textLength="375" lengthAdjust="spacingAndGlyphs">Liver segmentation</text>
<text class="b" x="2284" y="96" textLength="595" lengthAdjust="spacingAndGlyphs">Liver metastases segmentation</text>
<text x="481" y="398" font-size="50" textLength="118" lengthAdjust="spacingAndGlyphs">Initial</text>
<text x="477" y="457" font-size="50" textLength="127" lengthAdjust="spacingAndGlyphs">cohort</text>
<text x="427" y="948" font-size="50" textLength="205" lengthAdjust="spacingAndGlyphs">Validation</text>
<text x="466" y="1007" font-size="50" textLength="128" lengthAdjust="spacingAndGlyphs">cohort</text>
<text x="756" y="417" textLength="222" lengthAdjust="spacingAndGlyphs">DWI images</text>
<text x="696" y="767" textLength="345" lengthAdjust="spacingAndGlyphs">Manual annotation</text>
<text x="762" y="1118" textLength="232" lengthAdjust="spacingAndGlyphs">DWI images</text>
<text x="1878" y="409" textLength="279" lengthAdjust="spacingAndGlyphs">Predicted mask</text>
<text x="1845" y="749" textLength="342" lengthAdjust="spacingAndGlyphs">Manual annotation</text>
<text x="3036" y="432" textLength="316" lengthAdjust="spacingAndGlyphs">Model prediction</text>
<text x="3007" y="1080" textLength="315" lengthAdjust="spacingAndGlyphs">Model prediction</text>
<text x="2050" y="847" font-size="58" textLength="412" lengthAdjust="spacingAndGlyphs">Developed model</text>

<!-- panel 2 images -->
<use href="#bas" x="429" y="1196" width="351" height="255"/>
<use href="#pos" x="833" y="1196" width="352" height="252"/>
<use href="#bas" x="1231" y="1200" width="350" height="256"/>
<use href="#pos" x="1660" y="1204" width="350" height="252"/>
<use href="#bae" x="2039" y="1207" width="362" height="252"/>
<use href="#pof" x="2445" y="1207" width="362" height="254"/>
<use href="#bae" x="2831" y="1207" width="361" height="252"/>
<use href="#pof" x="3237" y="1207" width="362" height="254"/>

<!-- panel 2 connectors -->
<g fill="none" stroke="#4472c4" stroke-width="7">
<path d="M634 1520V1563H1041V1520"/><path d="M830 1563V1660"/>
<path d="M1353 1522V1585H1916V1522"/><path d="M1654 1585V1668"/>
<path d="M2152 1524V1592H2715V1524"/><path d="M2460 1592V1673"/>
<path d="M2916 1541V1606H3477V1541"/><path d="M3223 1606V1688"/>
</g>
<g fill="#4472c4">
<path d="M634 1502L648 1526H620Z"/><path d="M1041 1502L1055 1526H1027Z"/><path d="M830 1680L816 1655H844Z"/>
<path d="M1353 1504L1367 1528H1339Z"/><path d="M1916 1504L1930 1528H1902Z"/><path d="M1654 1690L1640 1665H1668Z"/>
<path d="M2152 1506L2166 1530H2138Z"/><path d="M2715 1506L2729 1530H2701Z"/><path d="M2460 1695L2446 1670H2474Z"/>
<path d="M2916 1523L2930 1547H2902Z"/><path d="M3477 1523L3491 1547H3463Z"/><path d="M3223 1710L3209 1685H3237Z"/>
</g>

<!-- panel 2 text -->
<text x="522" y="1501" textLength="172" lengthAdjust="spacingAndGlyphs">Baseline</text>
<text x="872" y="1497" textLength="294" lengthAdjust="spacingAndGlyphs">Post-treatment</text>
<text x="660" y="1553" textLength="344" lengthAdjust="spacingAndGlyphs">Manual annotation</text>
<text x="680" y="1722" textLength="297" lengthAdjust="spacingAndGlyphs">RECIST criteria</text>
<text x="1322" y="1506" textLength="173" lengthAdjust="spacingAndGlyphs">Baseline</text>
<text x="1697" y="1506" textLength="291" lengthAdjust="spacingAndGlyphs">Post-treatment</text>
<text x="1415" y="1569" textLength="457" lengthAdjust="spacingAndGlyphs">Automated segmentation</text>
<text x="1493" y="1723" textLength="298" lengthAdjust="spacingAndGlyphs">RECIST criteria</text>
<text x="2095" y="1501" textLength="173" lengthAdjust="spacingAndGlyphs">Baseline</text>
<text x="2536" y="1508" textLength="293" lengthAdjust="spacingAndGlyphs">Post-treatment</text>
<text x="2203" y="1575" textLength="483" lengthAdjust="spacingAndGlyphs">Attending radiologist (R1)</text>
<text x="2295" y="1727" textLength="297" lengthAdjust="spacingAndGlyphs">RECIST criteria</text>
<text x="2853" y="1504" textLength="173" lengthAdjust="spacingAndGlyphs">Baseline</text>
<text x="3256" y="1526" textLength="294" lengthAdjust="spacingAndGlyphs">Post-treatment</text>
<text x="2964" y="1590" textLength="428" lengthAdjust="spacingAndGlyphs">Fellow radiologist (R2)</text>
<text x="3058" y="1732" textLength="297" lengthAdjust="spacingAndGlyphs">RECIST criteria</text>

<!-- panel 3 -->
<text x="484" y="1840" font-size="58" textLength="576" lengthAdjust="spacingAndGlyphs">Segmentation evaluation</text>
<text x="2511" y="1857" font-size="58" textLength="456" lengthAdjust="spacingAndGlyphs">RECIST evaluation</text>
<g fill="none" stroke="#2f5597" stroke-width="4" stroke-dasharray="26 10 5 10">
<rect x="449" y="1869" width="762" height="342"/>
<rect x="2288" y="1866" width="927" height="340"/>
</g>
<g fill="none" stroke="#4472c4" stroke-width="6">
<path d="M574 1947H479V2153H574"/><path d="M479 2057H574"/>
<path d="M2402 1964H2308V2170H2402"/><path d="M2308 2074H2402"/>
</g>
<text x="589" y="1967" textLength="610" lengthAdjust="spacingAndGlyphs">Dice similarity coefficient (DSC)</text>
<text x="582" y="2068" textLength="470" lengthAdjust="spacingAndGlyphs">Volumetric similarity (VS)</text>
<text x="589" y="2163" textLength="434" lengthAdjust="spacingAndGlyphs">Hausdorff distance (HD)</text>
<text x="2416" y="1984" textLength="754" lengthAdjust="spacingAndGlyphs">Receiver operating characteristics (ROC)</text>
<text x="2411" y="2086" textLength="165" lengthAdjust="spacingAndGlyphs">Accuracy</text>
<text x="2412" y="2189" textLength="211" lengthAdjust="spacingAndGlyphs">Consistency</text>
</svg>
</body></html>
